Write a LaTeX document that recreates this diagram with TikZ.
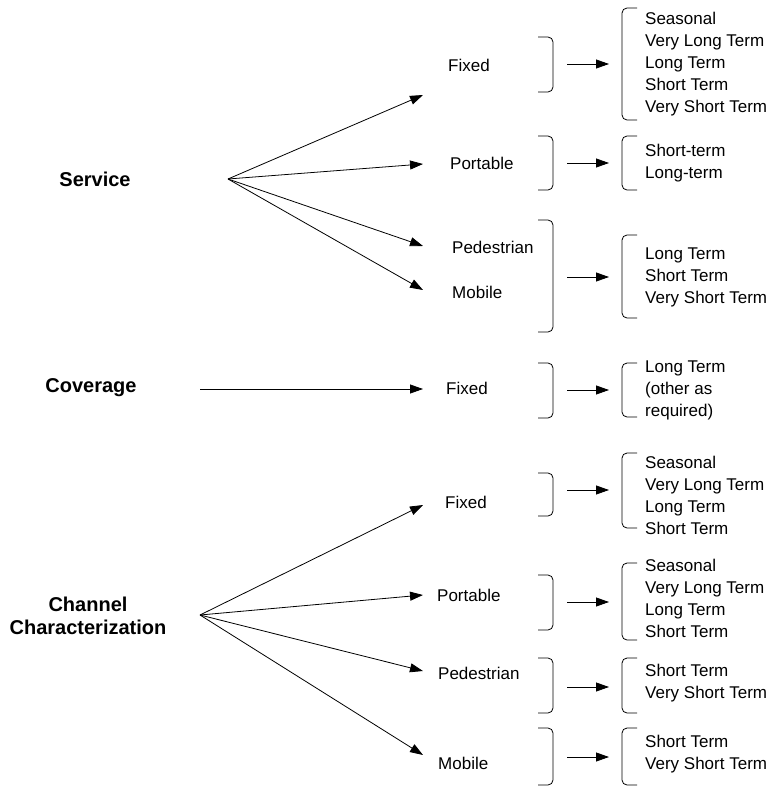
\documentclass[tikz,border=0pt]{standalone}
\usepackage{fontspec}
\setmainfont{Liberation Sans}
\usetikzlibrary{arrows.meta}
\tikzset{
  lbl/.style={anchor=west, inner sep=0pt, font=\fontsize{17}{22}\selectfont, align=left},
  head/.style={inner sep=0pt, font=\fontsize{20}{23}\selectfont\bfseries, align=center},
  arr/.style={line width=0.8pt, -{Triangle[length=13pt,width=9pt]}},
  brk/.style={line width=0.8pt, rounded corners=5pt},
}
\newcommand\myBrR[2]{\draw[brk] (538,#1) -- (553,#1) -- (553,#2) -- (538,#2);}
\newcommand\myBrL[2]{\draw[brk] (637,#1) -- (622,#1) -- (622,#2) -- (637,#2);}
\newcommand\myMid[2]{\coordinate (#1s) at (567,#2); \coordinate (#1e) at (609,#2); \draw[arr] (#1s) -- (#1e);}
\begin{document}
\begin{tikzpicture}[x=1pt,y=-1pt]
\useasboundingbox (0,0) rectangle (774,787);
% ---------- Service ----------
\node[head] (sv) at (95,179) {Service};
\coordinate (svO) at (228,179);
\node[lbl] (svF) at (448,65) {Fixed};
\node[lbl] (svP) at (450,163) {Portable};
\node[lbl] (svPe) at (452,247) {Pedestrian};
\node[lbl] (svM) at (452,292) {Mobile};
\coordinate (svFt) at (423,95);
\coordinate (svPt) at (423,164);
\coordinate (svPet) at (423,246);
\coordinate (svMt) at (423,290);
\draw[arr] (svO) -- (svFt);
\draw[arr] (svO) -- (svPt);
\draw[arr] (svO) -- (svPet);
\draw[arr] (svO) -- (svMt);
\myBrR{37}{92}
\myMid{m1}{64}
\myBrL{8}{120}
\node[lbl] (r1) at (645,64) {Seasonal\\Very Long Term\\Long Term\\Short Term\\Very Short Term};
\myBrR{136}{190}
\myMid{m2}{163}
\myBrL{136}{190}
\node[lbl] (r2) at (645,163) {Short-term\\Long-term};
\myBrR{220}{332}
\myMid{m3}{277}
\myBrL{235}{318}
\node[lbl] (r3) at (645,277) {Long Term\\Short Term\\Very Short Term};
% ---------- Coverage ----------
\node[head] (cv) at (91,388) {Coverage};
\coordinate (cvO) at (200,389);
\node[lbl] (cvF) at (446,388) {Fixed};
\coordinate (cvFt) at (423,389);
\draw[arr] (cvO) -- (cvFt);
\myBrR{363}{418}
\myMid{m4}{390}
\myBrL{363}{417}
\node[lbl] (r4) at (645,390) {Long Term\\(other as\\required)};
% ---------- Channel Characterization ----------
\node[head] (ch) at (88,616) {Channel\\Characterization};
\coordinate (chO) at (200,615);
\node[lbl] (chF) at (445,502) {Fixed};
\node[lbl] (chP) at (437,595) {Portable};
\node[lbl] (chPe) at (438,673) {Pedestrian};
\node[lbl] (chM) at (438,763) {Mobile};
\coordinate (chFt) at (423,505);
\coordinate (chPt) at (423,595);
\coordinate (chPet) at (423,671);
\coordinate (chMt) at (423,755);
\draw[arr] (chO) -- (chFt);
\draw[arr] (chO) -- (chPt);
\draw[arr] (chO) -- (chPet);
\draw[arr] (chO) -- (chMt);
\myBrR{473}{516}
\myMid{m5}{490}
\myBrL{453}{528}
\node[lbl] (r5) at (645,495) {Seasonal\\Very Long Term\\Long Term\\Short Term};
\myBrR{575}{630}
\myMid{m6}{602}
\myBrL{563}{640}
\node[lbl] (r6) at (645,598) {Seasonal\\Very Long Term\\Long Term\\Short Term};
\myBrR{658}{713}
\myMid{m7}{687}
\myBrL{658}{713}
\node[lbl] (r7) at (645,683) {Short Term\\Very Short Term};
\myBrR{728}{785}
\myMid{m8}{757}
\myBrL{728}{785}
\node[lbl] (r8) at (645,754) {Short Term\\Very Short Term};
\end{tikzpicture}
\end{document}
